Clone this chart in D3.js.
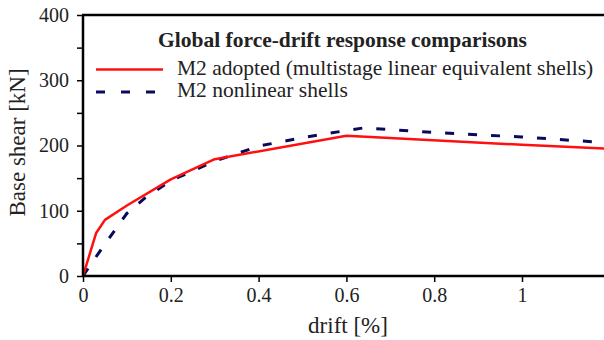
<!DOCTYPE html>
<html>
<head>
<meta charset="utf-8">
<script src="https://cdn.jsdelivr.net/npm/d3@7"></script>
<style>
  html, body { margin: 0; padding: 0; background: #fff; }
  svg text { font-family: "Liberation Serif", "DejaVu Serif", serif; fill: #222; }
</style>
</head>
<body>
<svg id="chart" width="604" height="340"></svg>
<script>
// Drift [%] and base shear [kN] for the two M2 models
const adoptedDrift = [0, 0.03, 0.05, 0.1, 0.2, 0.3, 0.6, 1.0, 1.2];
const adoptedShear = [0, 66, 86, 108, 148, 179, 215, 201, 195];

const nonlinearDrift = [0, 0.02, 0.05, 0.08, 0.1, 0.14, 0.2, 0.3, 0.4, 0.5, 0.6, 0.64, 0.8, 1.0, 1.2];
const nonlinearShear = [0, 20, 49, 77, 96, 119, 146, 176, 199, 212, 223, 227, 220, 213, 204];

const xTicks = [0, 0.2, 0.4, 0.6, 0.8, 1];
const xTickLabels = ["0", "0.2", "0.4", "0.6", "0.8", "1"];
const yTicks = [0, 100, 200, 300, 400];
const yMinorTicks = [50, 150, 250, 350];

const legendTitle = "Global force-drift response comparisons";
const seriesNames = ["M2 adopted (multistage linear equivalent shells)", "M2 nonlinear shells"];

const serif = "'Liberation Serif', 'DejaVu Serif', serif";
const svg = d3.select("#chart");
const mLeft = 83, mTop = 15, mBottom = 276;

const x = d3.scaleLinear().domain([0, 1.2]).range([mLeft, mLeft + 1.2 * 439]);
const y = d3.scaleLinear().domain([0, 400]).range([mBottom, mTop]);

const plot = svg.append("g");

// clip so curves stop at the panel edge
svg.append("clipPath").attr("id", "clip")
  .append("rect").attr("x", mLeft).attr("y", mTop).attr("width", 604 - mLeft).attr("height", mBottom - mTop);

const line = d3.line().x(d => x(d[0])).y(d => y(d[1]));

const adopted = adoptedDrift.map((d, i) => [d, adoptedShear[i]]);
const nonlinear = nonlinearDrift.map((d, i) => [d, nonlinearShear[i]]);

plot.append("path").datum(nonlinear)
  .attr("clip-path", "url(#clip)")
  .attr("d", line).attr("fill", "none")
  .attr("stroke", "#0a0a5c").attr("stroke-width", 3)
  .attr("stroke-dasharray", "9,14");

plot.append("path").datum(adopted)
  .attr("clip-path", "url(#clip)")
  .attr("d", line).attr("fill", "none")
  .attr("stroke", "#ff1010").attr("stroke-width", 2.5)
  .attr("stroke-linejoin", "round");

// axes
const xAxis = d3.axisBottom(x).tickValues(xTicks)
  .tickFormat((d, i) => xTickLabels[i]).tickSize(6).tickPadding(6);
const gx = svg.append("g").attr("transform", `translate(0,${mBottom})`).call(xAxis);

const yAxis = d3.axisLeft(y).tickValues(yTicks).tickFormat(d3.format("d")).tickSize(6).tickPadding(8);
const gy = svg.append("g").attr("transform", `translate(${mLeft},0)`).call(yAxis);
const gyMinor = svg.append("g").attr("transform", `translate(${mLeft},0)`)
  .call(d3.axisLeft(y).tickValues(yMinorTicks).tickFormat("").tickSize(6));
gyMinor.select(".domain").remove();

[gx, gy, gyMinor].forEach(g => {
  g.attr("font-family", serif);
  g.selectAll(".domain").attr("stroke", "#000").attr("stroke-width", 2.5);
  g.selectAll(".tick line").attr("stroke", "#000").attr("stroke-width", 1.5);
  g.selectAll(".tick text").attr("font-size", 20).attr("fill", "#222")
    .style("font-family", serif);
});
gx.select(".domain").attr("d", `M${mLeft},0H604`);
gy.select(".domain").attr("d", `M0,${mBottom}V${mTop}`);

// top border line
svg.append("line").attr("x1", mLeft - 1).attr("x2", 604)
  .attr("y1", mTop).attr("y2", mTop).attr("stroke", "#000").attr("stroke-width", 2.5);

// axis titles
svg.append("text").attr("x", 348).attr("y", 333).attr("text-anchor", "middle")
  .style("font-family", serif).attr("font-size", 23).text("drift [%]");
svg.append("text").attr("transform", `translate(25,142.5) rotate(-90)`)
  .attr("text-anchor", "middle").style("font-family", serif)
  .attr("font-size", 23).text("Base shear [kN]");

// legend
const legend = svg.append("g").style("font-family", serif);
legend.append("text").attr("x", 342.5).attr("y", 47).attr("text-anchor", "middle")
  .style("font-family", serif).attr("font-size", 21.5).attr("font-weight", "bold").text(legendTitle);
legend.append("line").attr("x1", 96).attr("x2", 163).attr("y1", 69.5).attr("y2", 69.5)
  .attr("stroke", "#ff1010").attr("stroke-width", 2.5);
legend.append("line").attr("x1", 96).attr("x2", 160).attr("y1", 92).attr("y2", 92)
  .attr("stroke", "#0a0a5c").attr("stroke-width", 3).attr("stroke-dasharray", "9,16");
legend.append("text").attr("x", 177).attr("y", 75).style("font-family", serif)
  .attr("font-size", 21.5).text(seriesNames[0]);
legend.append("text").attr("x", 177).attr("y", 97).style("font-family", serif)
  .attr("font-size", 21.5).text(seriesNames[1]);
</script>
</body>
</html>
